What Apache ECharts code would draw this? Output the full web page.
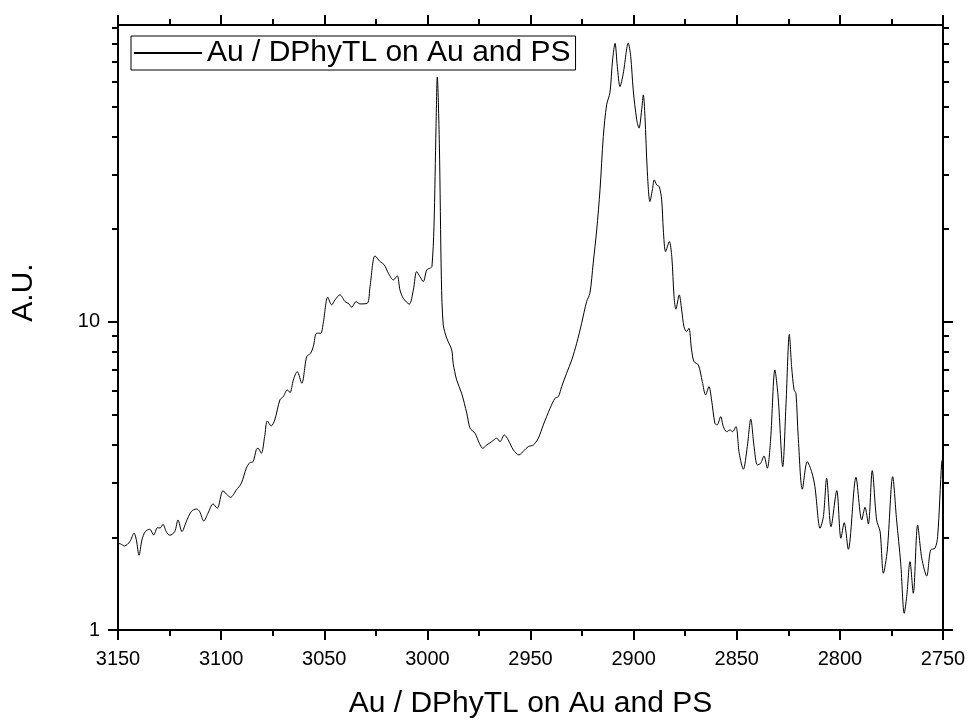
<!DOCTYPE html>
<html>
<head>
<meta charset="utf-8">
<script src="https://cdn.jsdelivr.net/npm/echarts@6/dist/echarts.min.js"></script>
<style>html,body{margin:0;padding:0;background:#fff}#main{width:972px;height:724px}</style>
</head>
<body>
<div id="main"></div>
<script>
const seriesName = 'Au / DPhyTL on Au and PS';
const xTitle = 'Au / DPhyTL on Au and PS';
const yTitle = 'A.U.';
const yMajorTicks = [1, 10];
const yMinorTicks = [2, 3, 4, 5, 6, 7, 8, 9, 20, 30, 40, 50, 60, 70, 80, 90];

const waveNumbers = [
3150,3148.7,3146.8,3144.3,3142.2,3141.1,3139.8,3138.4,3136.8,3134.6,3132.7,3130.9,3129.6,3128.2,3126.6,3124.9,3122.5,3120.9,3119.0,3116.9,
3114.5,3112.0,3110.4,3108.4,3106.4,3103.9,3101.9,3099.1,3097.5,3095.4,3092.6,3090.2,3087.8,3086.1,3084.5,3082.9,3082.1,3080.5,3078.9,3077.6,
3075.7,3074.0,3071.5,3069.9,3067.9,3066.6,3065.0,3063.1,3060.9,3058.5,3056.6,3055.3,3053.7,3051.7,3050.5,3048.3,3046.4,3044.8,3042.4,3039.9,
3038.0,3036.7,3034.6,3032.7,3029.1,3027.8,3025.4,3022.9,3020.9,3018.9,3016.5,3014.6,3013.3,3011.7,3008.8,3006.8,3005.2,3003.6,3002.0,3000.3,
2998.7,2997.8,2996.8,2995.8,2995.2,2994.2,2993.2,2992.3,2990.6,2988.2,2987.5,2985.8,2983.4,2980.9,2979.3,2976.9,2974.8,2973.2,2971.2,2968.8,
2966.4,2964.8,2962.7,2960.8,2958.3,2955.6,2953.2,2951.1,2948.6,2946.2,2943.8,2940.5,2938.1,2936.5,2934.9,2932.5,2930.0,2927.6,2925.2,2922.8,
2921.2,2919.6,2917.9,2916.3,2914.7,2913.1,2911.5,2910.2,2909.0,2907.9,2906.6,2905.0,2902.6,2901.4,2900.2,2898.5,2897.4,2896.1,2895.3,2894.5,
2893.4,2892.1,2890.9,2890.0,2888.8,2887.6,2886.4,2885.6,2884.5,2882.7,2881.5,2880.4,2879.5,2877.9,2876.7,2875.6,2874.3,2873.2,2871.9,2870.7,
2868.6,2866.7,2865.1,2863.5,2862.2,2860.6,2859.5,2857.8,2856.5,2854.9,2853.3,2852.0,2850.4,2848.8,2846.8,2844.9,2843.2,2841.6,2840.0,2838.4,
2836.8,2835.2,2833.6,2831.5,2829.9,2827.7,2826.1,2824.5,2823.4,2822.2,2821.3,2820.2,2818.2,2815.8,2813.7,2812.1,2809.6,2808.0,2806.4,2804.3,
2801.5,2799.5,2797.9,2795.9,2792.2,2789.4,2787.8,2786.2,2784.3,2782.2,2780.5,2778.9,2777.0,2774.4,2772.5,2770.5,2768.8,2767.6,2766.0,2764.4,
2762.3,2760.3,2757.9,2756.0,2753.9,2752.6,2750.6,2750.0
];
const intensities = [
1.912,1.902,1.874,1.934,2.061,1.960,1.748,1.960,2.086,2.123,2.034,2.148,2.144,2.203,2.086,2.030,2.086,2.276,2.086,2.247,
2.422,2.471,2.422,2.259,2.392,2.566,2.484,2.834,2.764,2.697,2.849,2.995,3.350,3.493,3.519,3.861,3.890,3.747,4.243,4.770,
4.596,4.806,5.582,5.722,6.014,5.894,6.482,6.896,6.324,7.717,7.914,8.317,9.190,9.190,9.903,12.03,11.36,11.79,12.24,11.64,
11.44,11.16,11.64,11.44,11.50,13.02,16.38,15.70,15.32,14.39,13.69,14.11,12.70,11.94,11.42,12.70,14.57,14.03,13.51,14.75,
14.94,15.12,20.39,43.07,62.30,38.04,13.69,9.78,8.852,8.113,7.341,6.482,5.868,5.053,4.518,4.352,4.038,3.890,3.987,4.087,
4.193,4.087,4.297,4.140,3.841,3.700,3.821,3.937,3.987,4.193,4.630,5.245,5.653,5.722,6.165,6.814,7.527,8.526,9.903,11.64,
12.39,15.51,19.89,26.83,39.96,50.65,55.41,70.88,80.21,67.44,58.07,64.22,80.34,72.66,56.65,45.28,42.56,48.78,54.58,46.41,
31.15,24.58,26.83,28.91,27.85,27.50,24.90,19.89,16.92,18.23,16.29,12.08,11.00,12.24,10.94,9.654,9.301,9.540,8.113,7.430,
7.250,6.401,5.794,6.165,5.582,4.689,4.630,4.926,4.572,4.404,4.460,4.404,4.572,3.747,3.325,3.937,4.832,3.937,3.434,3.477,
3.672,3.350,4.140,6.985,5.665,3.390,5.445,9.107,7.159,6.014,5.868,4.243,2.864,3.519,3.266,2.920,2.139,2.333,3.108,2.165,
2.834,1.985,2.230,1.828,3.131,2.276,2.502,2.208,3.290,2.276,2.086,1.528,1.819,3.145,2.276,1.647,1.133,1.283,1.667,1.316,
2.192,1.710,1.497,1.819,1.842,2.009,3.519,3.60
];

const FONT = '"Liberation Sans", Arial, sans-serif';
const BLACK = '#000';
const data = waveNumbers.map((w, i) => [w, intensities[i]]);

function xAxisCfg(pos, withLabels) {
  return {
    type: 'value', position: pos, inverse: true, min: 2750, max: 3150, interval: 50,
    axisLine: { show: true, onZero: false, lineStyle: { color: BLACK, width: 2 } },
    axisTick: { show: true, inside: false, length: 10, lineStyle: { color: BLACK, width: 2 } },
    minorTick: { show: true, splitNumber: 2, length: 6, lineStyle: { color: BLACK, width: 2 } },
    axisLabel: { show: withLabels, fontSize: 20, color: BLACK, margin: 19, fontFamily: FONT,
                 formatter: v => String(v) },
    splitLine: { show: false }, minorSplitLine: { show: false },
    name: withLabels ? xTitle : '', nameLocation: 'middle', nameGap: 59,
    nameTextStyle: { fontSize: 30, color: BLACK, fontFamily: FONT }
  };
}
function yAxisCfg(pos, ticks, len, showLine, withLabels) {
  return {
    type: 'log', logBase: 10, min: 1, max: 92, position: pos,
    axisLine: { show: showLine, onZero: false, lineStyle: { color: BLACK, width: 2 } },
    axisTick: { show: true, inside: false, length: len, customValues: ticks, lineStyle: { color: BLACK, width: 2 } },
    axisLabel: { show: withLabels, customValues: ticks, fontSize: 20, color: BLACK, margin: 18, fontFamily: FONT },
    splitLine: { show: false },
    name: withLabels ? yTitle : '', nameLocation: 'middle', nameGap: 79,
    nameTextStyle: { fontSize: 30, color: BLACK, fontFamily: FONT, padding: [0, 0, 0, 70] }
  };
}

const chart = echarts.init(document.getElementById('main'), null, { renderer: 'canvas' });
chart.setOption({
  animation: false,
  backgroundColor: '#fff',
  textStyle: { fontFamily: FONT },
  grid: { left: 118, right: 29, top: 25, bottom: 94, containLabel: false, outerBoundsMode: 'none' },
  legend: {
    left: 131, top: 36, orient: 'horizontal',
    padding: [2, 5, 2, 3], itemWidth: 68, itemHeight: 2, itemGap: 0, icon: 'rect',
    borderColor: BLACK, borderWidth: 1, backgroundColor: '#fff', borderRadius: 0,
    textStyle: { fontSize: 30, color: BLACK, fontFamily: FONT },
    data: [seriesName]
  },
  xAxis: [xAxisCfg('bottom', true), xAxisCfg('top', false)],
  yAxis: [
    yAxisCfg('left', yMajorTicks, 10, true, true),
    yAxisCfg('left', yMinorTicks, 6, false, false),
    yAxisCfg('right', yMajorTicks, 10, true, false),
    yAxisCfg('right', yMinorTicks, 6, false, false)
  ],
  series: [{
    name: seriesName, type: 'line', xAxisIndex: 0, yAxisIndex: 0,
    data: data, symbol: 'none', smooth: 0.3,
    lineStyle: { color: BLACK, width: 1 }, itemStyle: { color: BLACK }
  }]
});
</script>
</body>
</html>
